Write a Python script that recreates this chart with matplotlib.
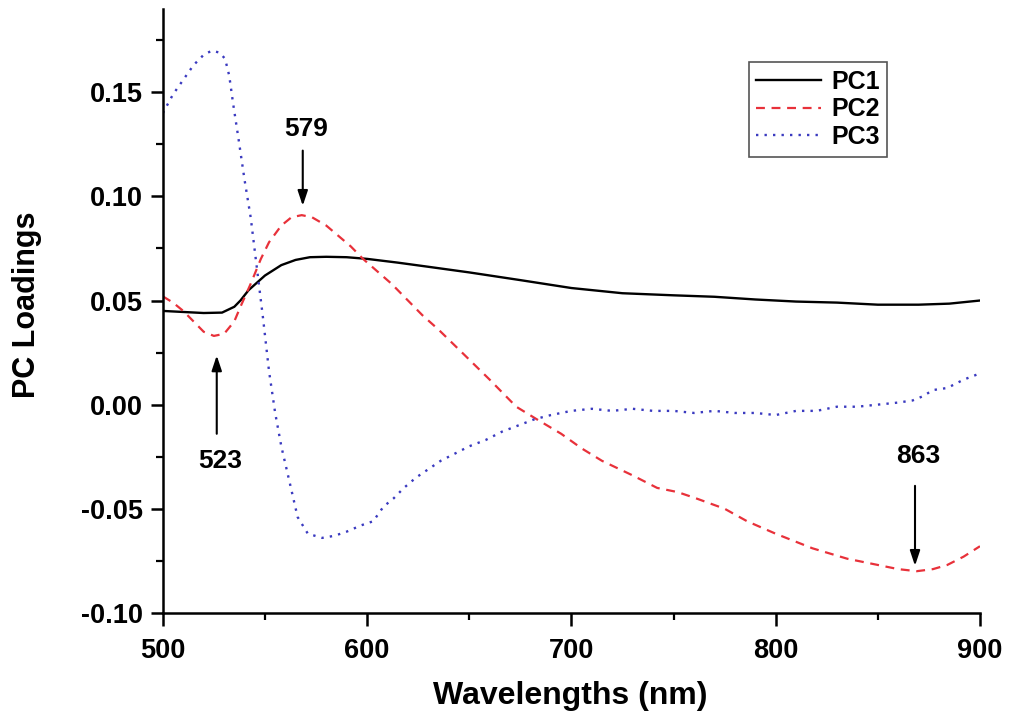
import matplotlib
matplotlib.use('Agg')
import matplotlib.pyplot as plt
from matplotlib.ticker import MultipleLocator, FormatStrFormatter

plt.rcParams['font.family'] = ['Liberation Sans', 'DejaVu Sans']
plt.rcParams['font.weight'] = 'bold'
plt.rcParams['axes.unicode_minus'] = False

# PC1 loadings
pc1_wl = [500, 510, 520, 529, 535, 538, 542, 550, 558, 565, 572, 580, 590, 600,
          615, 630, 650, 675, 700, 725, 750, 770, 790, 810, 830, 850, 870, 885, 900]
pc1_val = [0.045, 0.0445, 0.044, 0.0442, 0.047, 0.050, 0.055, 0.062, 0.067, 0.0695,
           0.0708, 0.071, 0.0708, 0.0700, 0.0682, 0.0662, 0.0635, 0.0598, 0.0560,
           0.0535, 0.0525, 0.0518, 0.0505, 0.0495, 0.049, 0.048, 0.048, 0.0485, 0.0500]

# PC2 loadings
pc2_wl = [500, 505, 510, 515, 520, 525, 530, 535, 538, 543, 548, 552, 558, 563, 568,
          573, 580, 586, 592, 598, 605, 612, 620, 627, 635, 647, 660, 673, 683, 695,
          705, 715, 730, 742, 752, 761, 775, 786, 800, 818, 835, 850, 860, 869, 877,
          884, 892, 900]
pc2_val = [0.052, 0.049, 0.045, 0.040, 0.035, 0.033, 0.034, 0.040, 0.047, 0.058, 0.070,
           0.078, 0.086, 0.090, 0.091, 0.090, 0.086, 0.081, 0.076, 0.070, 0.064, 0.058,
           0.050, 0.043, 0.036, 0.0245, 0.012, -0.001, -0.007, -0.014, -0.021, -0.027,
           -0.034, -0.040, -0.042, -0.045, -0.050, -0.056, -0.062, -0.069, -0.074,
           -0.077, -0.079, -0.080, -0.079, -0.077, -0.073, -0.068]

# PC3 loadings
pc3_wl = [500, 505, 510, 515, 520, 524, 528, 530.5, 532.5, 534.5, 537, 540, 543, 546,
          549, 552, 555, 558, 562, 566, 571, 578, 584, 590, 597, 603, 608, 613, 618,
          624, 630, 636, 642, 650, 658, 666, 674, 682, 690, 700, 710, 720, 730, 740,
          750, 760, 770, 780, 790, 800, 810, 820, 830, 840, 850, 860, 867, 872, 877,
          884, 892, 900]
pc3_val = [0.140, 0.149, 0.156, 0.163, 0.168, 0.170, 0.169, 0.166, 0.158, 0.144, 0.128,
           0.108, 0.090, 0.066, 0.042, 0.016, -0.004, -0.020, -0.037, -0.054, -0.062,
           -0.064, -0.063, -0.061, -0.058, -0.056, -0.049, -0.045, -0.040, -0.035,
           -0.031, -0.027, -0.024, -0.020, -0.017, -0.013, -0.010, -0.007, -0.005,
           -0.003, -0.002, -0.003, -0.002, -0.003, -0.003, -0.004, -0.003, -0.004,
           -0.004, -0.005, -0.003, -0.003, -0.001, -0.001, 0.000, 0.001, 0.002, 0.004,
           0.007, 0.008, 0.012, 0.015]

# peak labels: text, arrow x, arrow tail y, arrow head y, text y
peaks = [('579', 568.5, 0.122, 0.0955, 0.1325),
         ('523', 526.4, -0.014, 0.0236, -0.027),
         ('863', 868.2, -0.039, -0.0774, -0.0245)]

fig = plt.figure(figsize=(10.24, 7.21), dpi=100)
ax = fig.add_axes([0.159, 0.150, 0.798, 0.8375])

ax.plot(pc1_wl, pc1_val, color='black', lw=1.7, label='PC1')
ax.plot(pc2_wl, pc2_val, color='#e8313a', lw=1.6, linestyle=(0, (4, 3)), label='PC2')
ax.plot(pc3_wl, pc3_val, color='#3a3ac0', lw=1.7, linestyle=(0, (1, 2.6)), label='PC3')

for txt, x, y_tail, y_head, y_txt in peaks:
    ax.annotate('', xy=(x, y_head), xytext=(x, y_tail),
                arrowprops=dict(arrowstyle='-|>,head_length=0.9,head_width=0.3',
                                color='black', lw=1.5, shrinkA=0, shrinkB=0))
    ax.text(x + 1.5, y_txt, txt, ha='center', va='center', fontsize=19, fontweight='bold')

ax.set_xlim(500, 900)
ax.set_ylim(-0.10, 0.19)
ax.xaxis.set_major_locator(MultipleLocator(100))
ax.xaxis.set_minor_locator(MultipleLocator(50))
ax.yaxis.set_major_locator(MultipleLocator(0.05))
ax.yaxis.set_minor_locator(MultipleLocator(0.025))
ax.yaxis.set_major_formatter(FormatStrFormatter('%.2f'))

for s in ['top', 'right']:
    ax.spines[s].set_visible(False)
for s in ['left', 'bottom']:
    ax.spines[s].set_linewidth(1.8)

ax.tick_params(axis='both', which='major', direction='out', length=9, width=1.8,
               labelsize=19.5)
ax.tick_params(axis='both', which='minor', direction='out', length=5, width=1.6)
ax.tick_params(axis='x', which='major', pad=9)
ax.tick_params(axis='y', which='major', pad=5)
for lab in ax.get_xticklabels() + ax.get_yticklabels():
    lab.set_fontweight('bold')

ax.set_xlabel('Wavelengths (nm)', fontsize=23, fontweight='bold')
ax.set_ylabel('PC Loadings', fontsize=22, fontweight='bold')
ax.xaxis.set_label_coords(0.498, -0.113)
ax.yaxis.set_label_coords(-0.148, 0.51)

leg = ax.legend(loc='upper left', bbox_to_anchor=(0.717, 0.912), borderaxespad=0,
                fontsize=18, handlelength=2.6, handletextpad=0.4, labelspacing=0.15,
                borderpad=0.3, fancybox=False, framealpha=1, edgecolor='#555555')
leg.get_frame().set_linewidth(1.2)
for t in leg.get_texts():
    t.set_fontweight('bold')

fig.savefig('out.png', dpi=100)
